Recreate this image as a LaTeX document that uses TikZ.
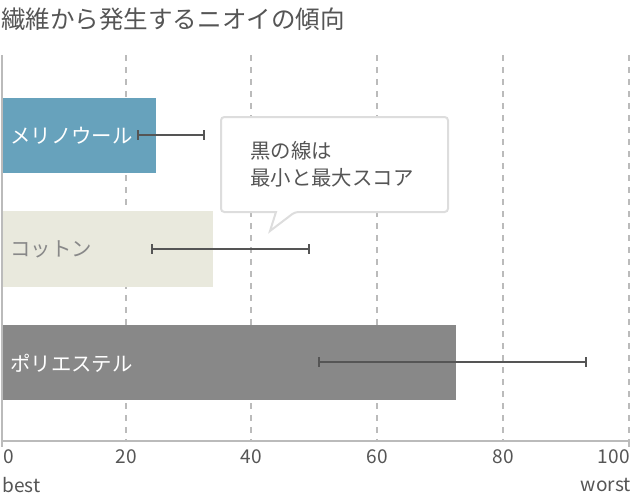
\documentclass[tikz,border=0pt]{standalone}
\usepackage{fontspec}
\setmainfont{Noto Sans CJK JP}
\usetikzlibrary{arrows.meta}
\definecolor{merinoblue}{HTML}{67A2BC}
\definecolor{cottonbeige}{HTML}{E9E9DD}
\definecolor{polygray}{HTML}{888888}
\definecolor{textgray}{HTML}{555555}
\definecolor{gridgray}{HTML}{BBBBBB}
\definecolor{boxgray}{HTML}{DDDDDD}
\tikzset{
	gridline/.style={draw=gridgray, line width=1.1pt, dash pattern=on 4.5pt off 4.5pt},
	axisline/.style={draw=gridgray, line width=1.5pt},
	bar/.style={draw=none},
	errbar/.style={draw=textgray, line width=1.5pt, {Bar[width=7pt]}-{Bar[width=7pt]}},
	callout/.style={draw=boxgray, fill=white, line width=1.5pt, rounded corners=2.5pt},
	titletext/.style={inner sep=0pt, text=textgray, font=\fontsize{18.4pt}{22pt}\selectfont},
	barlabel/.style={inner sep=0pt, anchor=west, font=\fontsize{15.3pt}{18pt}\selectfont},
	notetext/.style={inner sep=0pt, anchor=west, text=textgray, font=\fontsize{15.3pt}{18pt}\selectfont},
	ticklabel/.style={inner sep=0pt, text=textgray, font=\fontsize{14.3pt}{17pt}\selectfont},
}
\begin{document}
\begin{tikzpicture}[x=0.75pt, y=-0.75pt]
	\useasboundingbox (0,0) rectangle (633,496);
	\node[titletext, anchor=west] (title) at (1,19) {繊維から発生するニオイの傾向};
	% grid
	\draw[gridline] (126,55)--(126,441);
	\draw[gridline] (251,55)--(251,441);
	\draw[gridline] (377,55)--(377,441);
	\draw[gridline] (503,55)--(503,441);
	\draw[gridline] (629,55)--(629,441);
	% bars
	\fill[bar, merinoblue] (2,98) rectangle (156,173);
	\fill[bar, cottonbeige] (2,211) rectangle (213,287);
	\fill[bar, polygray] (2,325) rectangle (456,400);
	\node[barlabel, text=white] (merino) at (10,136) {メリノウール};
	\node[barlabel, text=polygray] (cotton) at (10,249) {コットン};
	\node[barlabel, text=white] (polyester) at (10,363) {ポリエステル};
	% axes
	\draw[axisline] (2,55)--(2,447);
	\draw[axisline] (2,441)--(629,441);
	\draw[axisline] (629,441)--(629,447);
	% min/max
	\coordinate (merinoMin) at (137,135);
	\coordinate (merinoMax) at (205,135);
	\coordinate (cottonMin) at (151,249);
	\coordinate (cottonMax) at (310,249);
	\coordinate (polyMin) at (318,362);
	\coordinate (polyMax) at (587,362);
	\draw[errbar] (merinoMin)--(merinoMax);
	\draw[errbar] (cottonMin)--(cottonMax);
	\draw[errbar] (polyMin)--(polyMax);
	% callout
	\draw[callout] (221,117)--(448,117)--(448,212)--(295,212)[sharp corners]--(270,231)--(276,212)[rounded corners=2.5pt]--(221,212)--cycle;
	\node[notetext] (note1) at (250,151) {黒の線は};
	\node[notetext] (note2) at (250,178) {最小と最大スコア};
	% scale
	\node[ticklabel, anchor=west] (t0) at (3,457) {0};
	\node[ticklabel] (t20) at (126,457) {20};
	\node[ticklabel] (t40) at (251,457) {40};
	\node[ticklabel] (t60) at (377,457) {60};
	\node[ticklabel] (t80) at (503,457) {80};
	\node[ticklabel, anchor=east] (t100) at (630,457) {100};
	\node[ticklabel, anchor=west] (best) at (2,485) {best};
	\node[ticklabel, anchor=east] (worst) at (631,485) {worst};
\end{tikzpicture}
\end{document}
